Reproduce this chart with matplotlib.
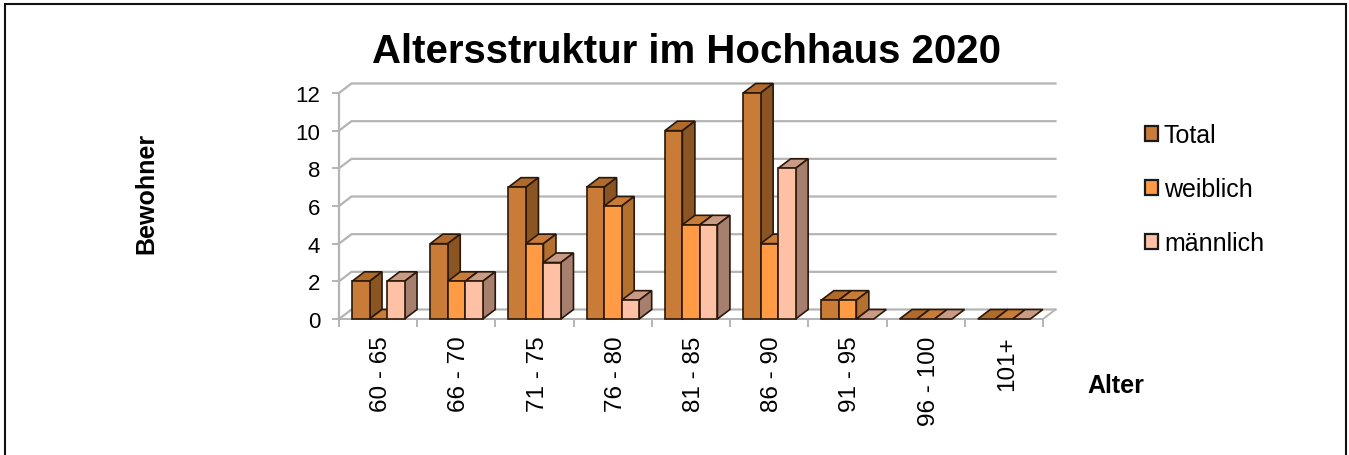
import matplotlib
matplotlib.use("Agg")
import matplotlib.pyplot as plt
from matplotlib.lines import Line2D
from matplotlib.patches import Patch, Polygon, Rectangle

plt.rcParams["font.family"] = ["Liberation Sans", "DejaVu Sans"]

# values
alter = ["60 - 65", "66 - 70", "71 - 75", "76 - 80", "81 - 85", "86 - 90", "91 - 95", "96 - 100", "101+"]
total = [2, 4, 7, 7, 10, 12, 1, 0, 0]
weiblich = [0, 2, 4, 6, 5, 4, 1, 0, 0]
maennlich = [2, 2, 3, 1, 5, 8, 0, 0, 0]
y_ticks = [0, 2, 4, 6, 8, 10, 12]

# front, top, side colour of each series
colors_total = ("#C97C37", "#B06A2C", "#8A5523")
colors_weiblich = ("#FF9A45", "#C97C37", "#B3702F")
colors_maennlich = ("#FFC1A5", "#C99A84", "#A67F6F")

W, H = 1349, 456
fig = plt.figure(figsize=(W / 100, H / 100), dpi=100, facecolor="white")
# frame has no bottom edge in the source
fig.add_artist(Line2D([5 / W, 5 / W, 1346 / W, 1346 / W], [0, 1 - 5 / H, 1 - 5 / H, 0],
                      transform=fig.transFigure, color="#111111", lw=1.5, solid_joinstyle="miter"))

# axes box is the front plane of the 3d chart
ax = fig.add_axes([339 / W, 1 - 320 / H, 704 / W, 226 / H])
ax.set_xlim(0, 9)
ax.set_ylim(0, 12)
for s in ax.spines.values():
    s.set_visible(False)

dx = 12.5 / 78.2   # depth offset in data units
dy = 9.5 / 18.83
grid = "#B4B4B4"

# walls and gridlines
for v in y_ticks:
    ax.plot([0, dx, 9 + dx], [v, v + dy, v + dy], color=grid, lw=1.6, clip_on=False, zorder=1,
            solid_joinstyle="miter")
ax.plot([0, 0], [0, 12], color=grid, lw=1.6, clip_on=False, zorder=1)
ax.plot([0, 9, 9 + dx], [0, 0, dy], color=grid, lw=1.4, clip_on=False, zorder=1)

ax.set_xticks(range(10))
ax.set_xticklabels([])
ax.set_xticks([i + 0.5 for i in range(9)], minor=True)
ax.set_xticklabels(alter, minor=True, rotation=90, fontsize=17.5, color="black")
for lab in ax.get_xticklabels(minor=True):
    lab.set_x(lab.get_position()[0])
ax.set_yticks(y_ticks)
ax.set_yticklabels([str(v) for v in y_ticks], fontsize=16, color="black")
ax.tick_params(axis="x", which="major", length=6, width=1.4, color=grid)
ax.tick_params(axis="x", which="minor", length=0, pad=12)
ax.tick_params(axis="y", length=5, width=1.4, color=grid, pad=8.5)

edge = "#2A180A"
bar_w = 17.5 / 78.2
start = 13 / 78.2


def bar3d(x, v, colors, z):
    front, top, side = colors
    ax.add_patch(Polygon([(x, v), (x + dx, v + dy), (x + bar_w + dx, v + dy), (x + bar_w, v)],
                         fc=top, ec=edge, lw=1.2, clip_on=False, zorder=z))
    if v > 0:
        ax.add_patch(Polygon([(x + bar_w, 0), (x + bar_w + dx, dy), (x + bar_w + dx, v + dy), (x + bar_w, v)],
                             fc=side, ec=edge, lw=1.2, clip_on=False, zorder=z))
        ax.add_patch(Rectangle((x, 0), bar_w, v, fc=front, ec=edge, lw=1.2, clip_on=False, zorder=z))


z = 3
for i in range(len(alter)):
    for j, (vals, cols) in enumerate([(total, colors_total), (weiblich, colors_weiblich),
                                      (maennlich, colors_maennlich)]):
        bar3d(i + start + j * bar_w, vals[i], cols, z)
        z += 1

# nudge rotated labels right, they sit a few px left of the group centre otherwise
offset = matplotlib.transforms.ScaledTranslation(3 / 100, 0, fig.dpi_scale_trans)
for lab in ax.get_xticklabels(minor=True):
    lab.set_transform(lab.get_transform() + offset)

fig.text(686 / W, 1 - 63 / H, "Altersstruktur im Hochhaus 2020", ha="center", va="baseline",
         fontsize=28.9, fontweight="bold")
fig.text(146 / W, 1 - 193 / H, "Bewohner", rotation=90, ha="center", va="center", fontsize=18, fontweight="bold")
fig.text(1116 / W, 1 - 393 / H, "Alter", ha="center", va="baseline", fontsize=18, fontweight="bold")

handles = [Patch(fc=colors_total[0], ec="#1A1A1A", lw=1.6, label="Total"),
           Patch(fc=colors_weiblich[0], ec="#1A1A1A", lw=1.6, label="weiblich"),
           Patch(fc=colors_maennlich[0], ec="#1A1A1A", lw=1.6, label="männlich")]
fig.legend(handles=handles, loc="center left", bbox_to_anchor=(1122 / W, 1 - 190 / H), frameon=False,
           fontsize=18, handlelength=0.54, handleheight=0.54, handletextpad=0.24, labelspacing=1.2)

fig.savefig("out.png", dpi=100)
